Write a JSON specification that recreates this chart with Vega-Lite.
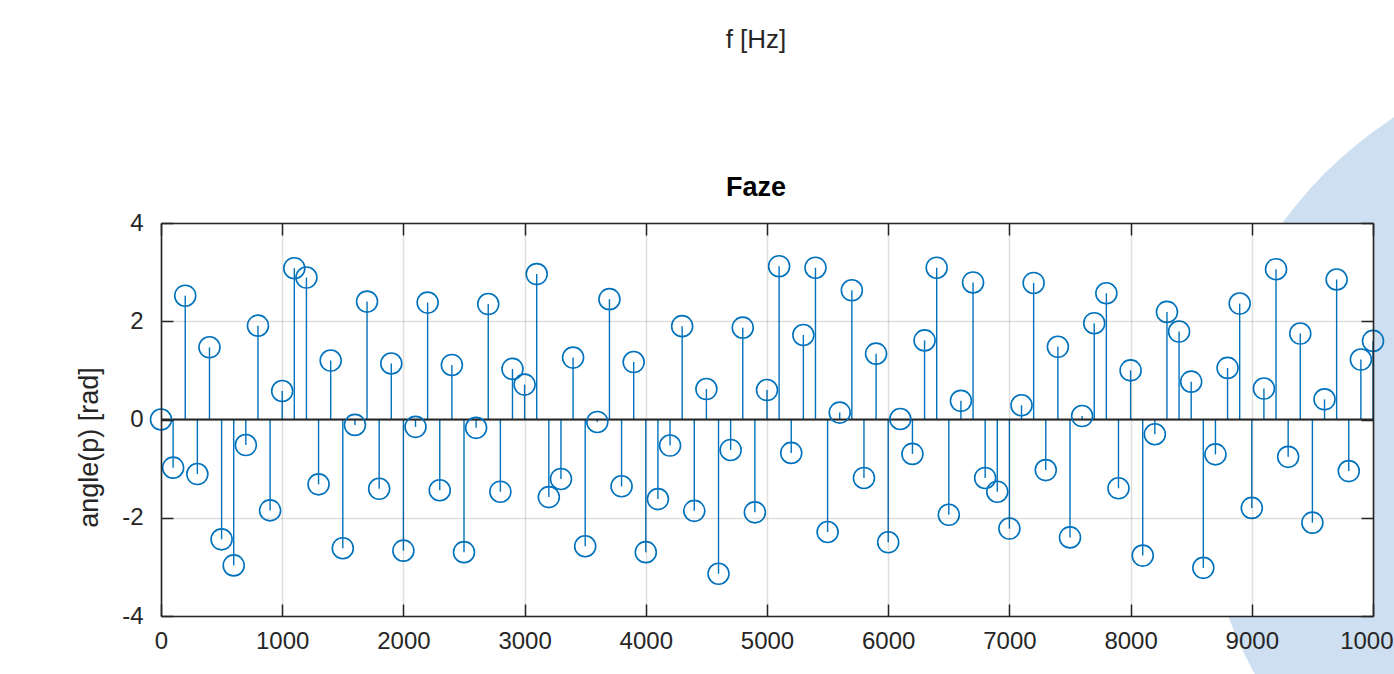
{
  "$schema": "https://vega.github.io/schema/vega-lite/v6.json",
  "width": 1212,
  "height": 393,
  "autosize": {"type": "none"},
  "padding": {"left": 161, "top": 223, "right": 21, "bottom": 58},
  "background": "#ffffff",
  "config": {"font": "Liberation Sans", "view": {"stroke": null}},
  "title": {
    "text": "f [Hz]",
    "subtitle": "Faze",
    "anchor": "middle",
    "frame": "group",
    "font": "Liberation Sans",
    "fontSize": 26,
    "fontWeight": "normal",
    "color": "#262626",
    "subtitleFont": "Liberation Sans",
    "subtitleFontSize": 27,
    "subtitleFontWeight": "bold",
    "subtitleColor": "#000000",
    "subtitlePadding": 122,
    "offset": -151,
    "dx": -11
  },
  "data": {
    "values": [
      {"f": 0, "p": 0.00}, {"f": 100, "p": -0.98}, {"f": 200, "p": 2.52}, {"f": 300, "p": -1.11}, {"f": 400, "p": 1.47},
      {"f": 500, "p": -2.44}, {"f": 600, "p": -2.97}, {"f": 700, "p": -0.52}, {"f": 800, "p": 1.91}, {"f": 900, "p": -1.85},
      {"f": 1000, "p": 0.58}, {"f": 1100, "p": 3.08}, {"f": 1200, "p": 2.89}, {"f": 1300, "p": -1.32}, {"f": 1400, "p": 1.20},
      {"f": 1500, "p": -2.62}, {"f": 1600, "p": -0.11}, {"f": 1700, "p": 2.40}, {"f": 1800, "p": -1.41}, {"f": 1900, "p": 1.14},
      {"f": 2000, "p": -2.67}, {"f": 2100, "p": -0.15}, {"f": 2200, "p": 2.38}, {"f": 2300, "p": -1.44}, {"f": 2400, "p": 1.11},
      {"f": 2500, "p": -2.70}, {"f": 2600, "p": -0.17}, {"f": 2700, "p": 2.35}, {"f": 2800, "p": -1.47}, {"f": 2900, "p": 1.03},
      {"f": 3000, "p": 0.71}, {"f": 3100, "p": 2.96}, {"f": 3200, "p": -1.58}, {"f": 3300, "p": -1.21}, {"f": 3400, "p": 1.26},
      {"f": 3500, "p": -2.58}, {"f": 3600, "p": -0.05}, {"f": 3700, "p": 2.45}, {"f": 3800, "p": -1.36}, {"f": 3900, "p": 1.17},
      {"f": 4000, "p": -2.70}, {"f": 4100, "p": -1.62}, {"f": 4200, "p": -0.53}, {"f": 4300, "p": 1.90}, {"f": 4400, "p": -1.86},
      {"f": 4500, "p": 0.62}, {"f": 4600, "p": -3.14}, {"f": 4700, "p": -0.62}, {"f": 4800, "p": 1.87}, {"f": 4900, "p": -1.89},
      {"f": 5000, "p": 0.60}, {"f": 5100, "p": 3.12}, {"f": 5200, "p": -0.68}, {"f": 5300, "p": 1.72}, {"f": 5400, "p": 3.09},
      {"f": 5500, "p": -2.29}, {"f": 5600, "p": 0.14}, {"f": 5700, "p": 2.63}, {"f": 5800, "p": -1.19}, {"f": 5900, "p": 1.34},
      {"f": 6000, "p": -2.50}, {"f": 6100, "p": 0.01}, {"f": 6200, "p": -0.70}, {"f": 6300, "p": 1.61}, {"f": 6400, "p": 3.09},
      {"f": 6500, "p": -1.94}, {"f": 6600, "p": 0.38}, {"f": 6700, "p": 2.79}, {"f": 6800, "p": -1.19}, {"f": 6900, "p": -1.47},
      {"f": 7000, "p": -2.22}, {"f": 7100, "p": 0.29}, {"f": 7200, "p": 2.78}, {"f": 7300, "p": -1.03}, {"f": 7400, "p": 1.48},
      {"f": 7500, "p": -2.40}, {"f": 7600, "p": 0.07}, {"f": 7700, "p": 1.96}, {"f": 7800, "p": 2.57}, {"f": 7900, "p": -1.40},
      {"f": 8000, "p": 1.00}, {"f": 8100, "p": -2.77}, {"f": 8200, "p": -0.30}, {"f": 8300, "p": 2.19}, {"f": 8400, "p": 1.79},
      {"f": 8500, "p": 0.77}, {"f": 8600, "p": -3.02}, {"f": 8700, "p": -0.71}, {"f": 8800, "p": 1.05}, {"f": 8900, "p": 2.36},
      {"f": 9000, "p": -1.80}, {"f": 9100, "p": 0.63}, {"f": 9200, "p": 3.06}, {"f": 9300, "p": -0.76}, {"f": 9400, "p": 1.75},
      {"f": 9500, "p": -2.10}, {"f": 9600, "p": 0.41}, {"f": 9700, "p": 2.85}, {"f": 9800, "p": -1.05}, {"f": 9900, "p": 1.22},
      {"f": 10000, "p": 1.60}
    ]
  },
  "resolve": {"axis": {"x": "independent", "y": "independent"}},
  "layer": [
    {
      "data": {"values": [{}]},
      "mark": {"type": "point", "shape": "circle", "filled": true, "size": 705600, "color": "#cddff0", "opacity": 1, "clip": false, "strokeWidth": 0},
      "encoding": {
        "x": {"datum": 12054, "type": "quantitative", "scale": {"domain": [0, 10000], "nice": false, "zero": false}, "axis": null},
        "y": {"datum": -1.03, "type": "quantitative", "scale": {"domain": [-4, 4], "nice": false, "zero": false}, "axis": null}
      }
    },
    {
      "data": {"values": [{}]},
      "mark": {"type": "rect", "color": "#ffffff", "opacity": 1},
      "encoding": {
        "x": {"datum": 0, "type": "quantitative", "scale": {"domain": [0, 10000], "nice": false, "zero": false}, "axis": null},
        "x2": {"datum": 10000},
        "y": {"datum": -4, "type": "quantitative", "scale": {"domain": [-4, 4], "nice": false, "zero": false}, "axis": null},
        "y2": {"datum": 4}
      }
    },
    {
      "mark": {"type": "rule", "color": "#0072BD", "strokeWidth": 1.4},
      "encoding": {
        "x": {
          "field": "f", "type": "quantitative",
          "scale": {"domain": [0, 10000], "nice": false, "zero": false},
          "axis": {
            "orient": "bottom", "values": [0, 1000, 2000, 3000, 4000, 5000, 6000, 7000, 8000, 9000, 10000],
            "title": null, "zindex": 1,
            "grid": true, "gridColor": "#262626", "gridOpacity": 0.15, "gridWidth": 1.5,
            "ticks": true, "tickSize": -12, "tickColor": "#262626", "tickWidth": 1.5,
            "domain": true, "domainColor": "#262626", "domainWidth": 1.6,
            "labelFont": "Liberation Sans", "labelFontSize": 24, "labelColor": "#262626",
            "labelPadding": 25, "labelFlush": false, "labelOverlap": false,
            "labelExpr": "'' + datum.value"
          }
        },
        "y": {
          "field": "p", "type": "quantitative",
          "scale": {"domain": [-4, 4], "nice": false, "zero": false},
          "axis": {
            "orient": "left", "values": [-4, -2, 0, 2, 4], "zindex": 1,
            "title": "angle(p) [rad]", "titleFont": "Liberation Sans", "titleFontSize": 27,
            "titleFontWeight": "normal", "titleColor": "#262626",
            "titleX": -72, "titleY": 224, "titleBaseline": "middle", "titleAlign": "center", "titleAngle": 270,
            "grid": true, "gridColor": "#262626", "gridOpacity": 0.15, "gridWidth": 1.5,
            "ticks": true, "tickSize": -12, "tickColor": "#262626", "tickWidth": 1.5,
            "domain": true, "domainColor": "#262626", "domainWidth": 1.6,
            "labelFont": "Liberation Sans", "labelFontSize": 24, "labelColor": "#262626",
            "labelPadding": 30, "labelFlush": false, "labelOverlap": false,
            "labelExpr": "'' + datum.value"
          }
        },
        "y2": {"datum": 0}
      }
    },
    {
      "data": {"values": [{}]},
      "mark": {"type": "rule", "color": "#262626", "strokeWidth": 2},
      "encoding": {
        "x": {
          "datum": 0, "type": "quantitative",
          "scale": {"domain": [0, 10000], "nice": false, "zero": false},
          "axis": {
            "orient": "top", "values": [0, 1000, 2000, 3000, 4000, 5000, 6000, 7000, 8000, 9000, 10000],
            "title": null, "labels": false, "grid": false, "zindex": 1,
            "ticks": true, "tickSize": -12, "tickColor": "#262626", "tickWidth": 1.5,
            "domain": true, "domainColor": "#262626", "domainWidth": 1.6
          }
        },
        "x2": {"datum": 10000},
        "y": {
          "datum": 0, "type": "quantitative",
          "scale": {"domain": [-4, 4], "nice": false, "zero": false},
          "axis": {
            "orient": "right", "values": [-4, -2, 0, 2, 4],
            "title": null, "labels": false, "grid": false, "zindex": 1,
            "ticks": true, "tickSize": -12, "tickColor": "#262626", "tickWidth": 1.5,
            "domain": true, "domainColor": "#262626", "domainWidth": 1.6
          }
        }
      }
    },
    {
      "mark": {"type": "point", "shape": "circle", "filled": false, "size": 441, "strokeWidth": 1.6, "color": "#0072BD", "opacity": 1},
      "encoding": {
        "x": {"field": "f", "type": "quantitative", "scale": {"domain": [0, 10000], "nice": false, "zero": false}, "axis": null},
        "y": {"field": "p", "type": "quantitative", "scale": {"domain": [-4, 4], "nice": false, "zero": false}, "axis": null}
      }
    }
  ]
}
